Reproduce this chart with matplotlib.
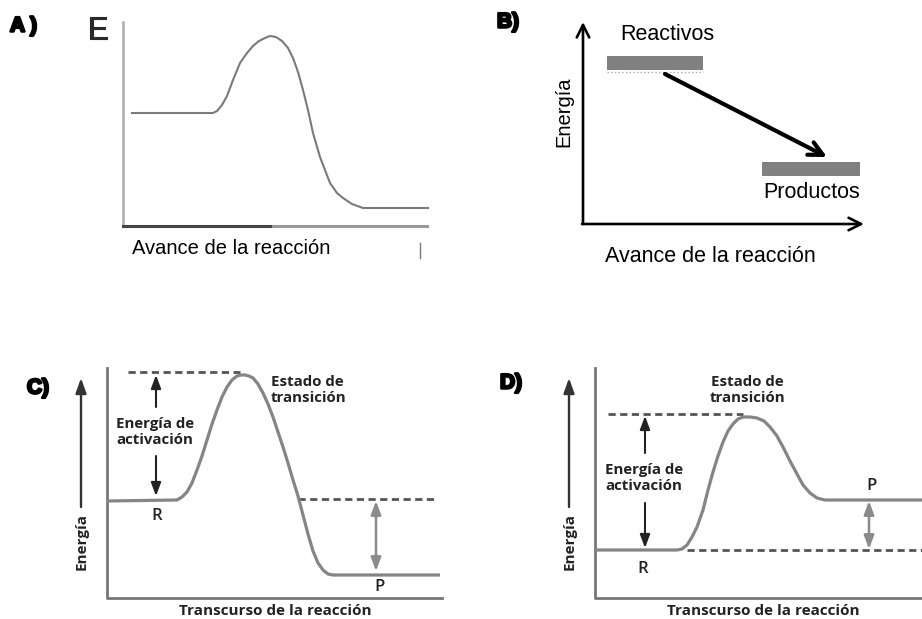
import matplotlib
matplotlib.use("Agg")
import matplotlib.pyplot as plt
import matplotlib.patheffects as pe

# --- datos (coordenadas de la lámina, en píxeles) ---
# A) perfil de energía
curva_a_x = [132, 213, 217, 222, 227, 233, 240, 247, 253, 259, 265, 270, 276, 282, 288, 293, 298, 303, 308, 313, 320, 330, 337, 343, 352, 363, 428]
curva_a_y = [113, 113, 111, 105, 96, 80, 63, 53, 46, 41, 38, 36, 37, 41, 48, 58, 72, 90, 110, 133, 157, 183, 193, 198, 204, 208, 208]

# B) niveles de reactivos / productos
niveles_b = ["Reactivos", "Productos"]
nivel_b_izq = [607, 762]
nivel_b_y = [63, 169]
nivel_b_ancho = [96, 98]

# C) perfil exotérmico
curva_c_x = [107, 177, 182, 187, 192, 197, 202, 207, 212, 217, 222, 227, 232, 237, 241, 245, 249, 253, 258, 263, 268, 273, 278, 283, 288, 293, 298, 303, 308, 313, 318, 323, 328, 333, 440]
curva_c_y = [501, 500, 497, 492, 483, 470, 456, 440, 424, 410, 397, 387, 380, 376, 375, 375, 376, 378, 384, 393, 404, 417, 432, 447, 463, 480, 496, 515, 534, 551, 563, 570, 574, 575, 575]

# D) perfil endotérmico
curva_d_x = [595, 677, 682, 687, 692, 697, 703, 708, 713, 718, 723, 728, 733, 738, 743, 750, 757, 764, 770, 777, 783, 790, 797, 803, 810, 817, 825, 922]
curva_d_y = [550, 550, 549, 545, 537, 527, 510, 490, 472, 456, 442, 431, 424, 419, 417, 417, 418, 421, 427, 436, 447, 461, 474, 485, 493, 498, 500, 500]

GRIS = "#858585"

fig = plt.figure(figsize=(9.22, 6.19), dpi=100)
ax = fig.add_axes([0, 0, 1, 1])
ax.set_xlim(0, 922)
ax.set_ylim(619, 0)
ax.axis("off")

grueso = [pe.withStroke(linewidth=1.8, foreground="black")]
arial = "Liberation Sans"
calibri = "Open Sans"

# ---------------- A ----------------
ax.text(10, 26, "A )", fontsize=15, fontweight="bold", family=arial, va="center", path_effects=grueso)
ax.text(87, 31, "E", fontsize=23, family=arial, color="#2a2a2a", va="center",
        path_effects=[pe.withStroke(linewidth=0.8, foreground="#2a2a2a")])
ax.plot([123, 123], [22, 226], color="#aaaaaa", lw=1.8)
ax.plot([123, 273], [226, 226], color="#444444", lw=2.2)
ax.plot([273, 427], [226, 226], color="#999999", lw=2.2)
ax.plot(curva_a_x, curva_a_y, color="#7a7a7a", lw=1.5)
ax.text(132, 248, "Avance de la reacción", fontsize=14.5, family=arial, va="center")
ax.plot([420, 420], [243, 258], color="#777777", lw=1)

# ---------------- B ----------------
ax.text(497, 22, "B)", fontsize=15, fontweight="bold", family=arial, va="center", path_effects=grueso)
flecha_v = dict(arrowstyle="->, head_length=0.9, head_width=0.45", lw=1.9, color="black", shrinkA=0, shrinkB=0)
ax.annotate("", xy=(583, 22), xytext=(583, 224), arrowprops=flecha_v)
ax.annotate("", xy=(864, 224), xytext=(582, 224), arrowprops=flecha_v)
ax.barh(nivel_b_y, nivel_b_ancho, left=nivel_b_izq, height=14, color="#808080")
ax.plot([607, 703], [72, 72], color="#aaaaaa", lw=1, ls=":")
ax.text(620, 35, niveles_b[0], fontsize=15.5, family=arial, va="center")
ax.text(763, 193, niveles_b[1], fontsize=15.5, family=arial, va="center")
ax.annotate("", xy=(827, 157), xytext=(665, 74),
            arrowprops=dict(arrowstyle="->, head_length=1.0, head_width=0.5", lw=3, color="black",
                            shrinkA=0, shrinkB=0))
ax.text(564, 112, "Energía", fontsize=14.5, family=arial, rotation=90, va="center", ha="center")
ax.text(710, 257, "Avance de la reacción", fontsize=15.5, family=arial, va="center", ha="center")


def panel(x0, label, curva_x, curva_y, top_dash, low_dash, act_x, act_top, act_bot, act_txt_y,
          gap_top, gap_bot, dh_x, dh_top, dh_bot, r_pos, p_pos, ts_pos, ts_ha, label_pos):
    ax.text(label_pos[0], label_pos[1], label, fontsize=15, fontweight="bold", family=arial,
            va="center", path_effects=grueso)
    # flecha de energía y etiqueta
    ax.annotate("", xy=(x0 - 26, 378), xytext=(x0 - 26, 507),
                arrowprops=dict(arrowstyle="-|>, head_length=0.9, head_width=0.32", lw=1.7,
                                color="#333333", shrinkA=0, shrinkB=0))
    ax.text(x0 - 25, 541, "Energía", fontsize=11, fontweight="bold", family=calibri, rotation=90,
            va="center", ha="center", color="#222222")
    # ejes
    ax.plot([x0, x0, x0 + 335], [368, 598, 598], color="#777777", lw=2)
    ax.text(x0 + 168, 611, "Transcurso de la reacción", fontsize=11, fontweight="bold", family=calibri,
            va="center", ha="center", color="#222222")
    # líneas discontinuas
    for seg in (top_dash, low_dash):
        ax.plot(seg[0], seg[1], color="#555555", lw=2, ls=(0, (2.6, 1.6)))
    # curva
    ax.plot(curva_x, curva_y, color=GRIS, lw=2.3, solid_capstyle="butt")
    # energía de activación
    negra = dict(arrowstyle="-|>, head_length=0.8, head_width=0.3", lw=1.5, color="#222222",
                 shrinkA=0, shrinkB=0)
    ax.annotate("", xy=(act_x, act_top), xytext=(act_x, gap_top), arrowprops=negra)
    ax.annotate("", xy=(act_x, act_bot), xytext=(act_x, gap_bot), arrowprops=negra)
    ax.text(act_x - 1, act_txt_y, "Energía de\nactivación", fontsize=10.8, fontweight="bold",
            family=calibri, va="center", ha="center", color="#222222", linespacing=1.15)
    # diferencia de energía
    ax.annotate("", xy=(dh_x, dh_top), xytext=(dh_x, dh_bot),
                arrowprops=dict(arrowstyle="<|-|>, head_length=0.8, head_width=0.3", lw=1.8,
                                color="#8a8a8a", shrinkA=0, shrinkB=0))
    ax.text(r_pos[0], r_pos[1], "R", fontsize=12, fontweight="semibold", family=calibri,
            va="center", ha="center", color="#222222")
    ax.text(p_pos[0], p_pos[1], "P", fontsize=12, fontweight="semibold", family=calibri,
            va="center", ha="center", color="#222222")
    ax.text(ts_pos[0], ts_pos[1], "Estado de\ntransición", fontsize=10.8, fontweight="bold",
            family=calibri, va="center", ha=ts_ha, color="#222222", linespacing=1.15)


panel(107, "C)", curva_c_x, curva_c_y,
      ([128, 240], [372, 372]), ([298, 438], [499, 499]),
      156, 375, 496, 432, 407, 456,
      376, 501, 571,
      (157, 516), (379, 587), (271, 390), "left", (27, 388))

panel(595, "D)", curva_d_x, curva_d_y,
      ([608, 743], [414, 414]), ([687, 922], [550, 550]),
      645, 416, 548, 478, 453, 503,
      869, 501, 549,
      (643, 569), (871, 486), (747, 390), "center", (500, 383))

fig.savefig("out.png", dpi=100)
